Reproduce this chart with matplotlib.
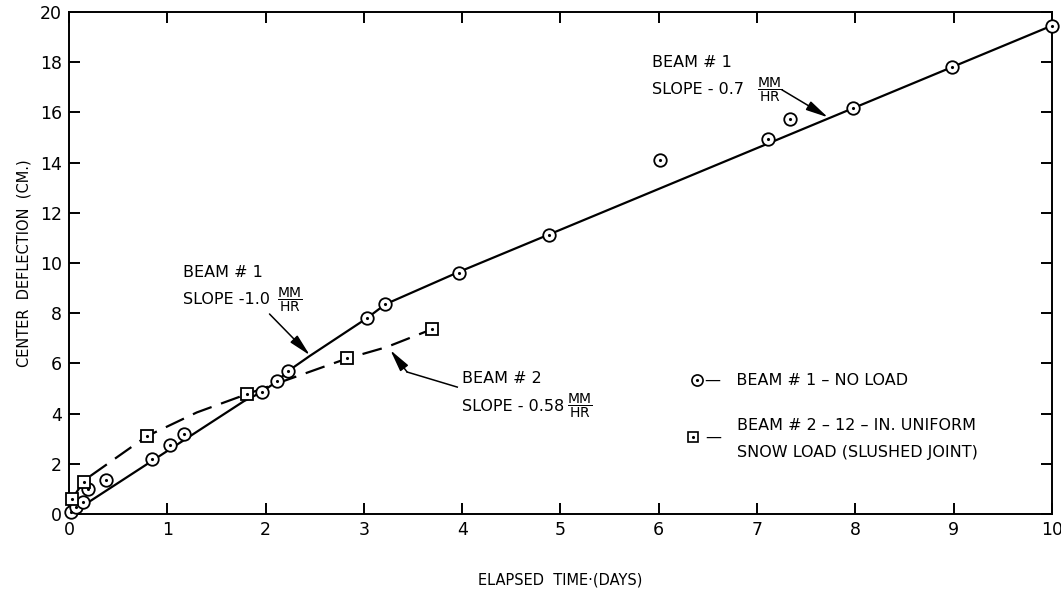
from matplotlib import pyplot as plt

# beam 1 - no load (circles)
beam1_days = [0.02, 0.07, 0.14, 0.19, 0.38, 0.84, 1.03, 1.17, 1.96, 2.12, 2.23,
              3.03, 3.22, 3.97, 4.88, 6.01, 7.11, 7.33, 7.98, 8.98, 10.0]
beam1_defl = [0.1, 0.3, 0.48, 1.0, 1.35, 2.2, 2.75, 3.2, 4.86, 5.3, 5.7,
              7.8, 8.36, 9.62, 11.1, 14.1, 14.95, 15.75, 16.15, 17.8, 19.45]

# beam 2 - 12 in. snow load (squares)
beam2_days = [0.03, 0.15, 0.79, 1.81, 2.83, 3.69]
beam2_defl = [0.6, 1.3, 3.1, 4.78, 6.2, 7.36]

# faired curves drawn through the points
fit1_days = [0.05, 1.78, 1.96, 2.12, 2.23, 2.45, 3.03, 3.22, 3.97, 10.0]
fit1_defl = [0.1, 4.5, 4.86, 5.3, 5.7, 6.3, 7.8, 8.36, 9.65, 19.45]
fit2_days = [0.03, 0.15, 0.21, 0.79, 1.3, 1.81, 2.83, 3.23, 3.69]
fit2_defl = [0.6, 1.3, 1.5, 3.1, 4.05, 4.78, 6.2, 6.65, 7.36]

xticks = list(range(0, 11))
yticks = list(range(0, 21, 2))

frac = r'$\dfrac{\mathrm{MM}}{\mathrm{HR}}$'

fig = plt.figure(figsize=(10.61, 5.89), dpi=100)
ax = fig.add_axes([0.065, 0.127, 0.9265, 0.853])

ax.plot(fit1_days, fit1_defl, c='k', lw=1.6, zorder=1)
ax.plot(fit2_days, fit2_defl, c='k', lw=1.6, ls=(0, (9, 4.5)), zorder=1)

ax.plot(beam1_days, beam1_defl, ls='none', marker='o', ms=9, mfc='white',
        mec='k', mew=1.3, zorder=3, clip_on=False)
ax.plot(beam1_days, beam1_defl, ls='none', marker='.', ms=2.5, c='k', zorder=4, clip_on=False)
ax.plot(beam2_days, beam2_defl, ls='none', marker='s', ms=8, mfc='white',
        mec='k', mew=1.3, zorder=3, clip_on=False)
ax.plot(beam2_days, beam2_defl, ls='none', marker='.', ms=2.5, c='k', zorder=4, clip_on=False)

ax.set_xlim(0, 10)
ax.set_ylim(0, 20)
ax.set_xticks(xticks)
ax.set_yticks(yticks)
ax.tick_params(direction='in', length=8, width=1.4, labelsize=12.5,
               top=True, right=True, pad=5)
for s in ax.spines.values():
    s.set_linewidth(1.4)

ax.set_xlabel('ELAPSED  TIME·(DAYS)', fontsize=10.5, labelpad=24)
ax.set_ylabel('CENTER  DEFLECTION  (CM.)', fontsize=10.5, labelpad=6)

arrow = dict(arrowstyle='-|>,head_length=0.9,head_width=0.2', color='k', lw=1.1,
             mutation_scale=15, shrinkA=0, shrinkB=0)

# slope notes
ax.text(1.16, 9.64, 'BEAM # 1', fontsize=11.5, va='center')
ax.text(1.16, 8.53, 'SLOPE -1.0', fontsize=11.5, va='center')
ax.text(2.12, 8.53, frac, fontsize=10, va='center')
ax.annotate('', xy=(2.45, 6.33), xytext=(2.04, 7.97), arrowprops=arrow)

ax.text(4.0, 5.42, 'BEAM # 2', fontsize=11.5, va='center')
ax.text(4.0, 4.3, 'SLOPE - 0.58', fontsize=11.5, va='center')
ax.text(5.07, 4.3, frac, fontsize=10, va='center')
ax.plot([3.95, 3.44], [5.06, 5.66], c='k', lw=1.1)
ax.annotate('', xy=(3.27, 6.53), xytext=(3.44, 5.66), arrowprops=arrow)

ax.text(5.93, 18.0, 'BEAM # 1', fontsize=11.5, va='center')
ax.text(5.93, 16.9, 'SLOPE - 0.7', fontsize=11.5, va='center')
ax.text(7.0, 16.9, frac, fontsize=10, va='center')
ax.annotate('', xy=(7.72, 15.8), xytext=(7.25, 16.9), arrowprops=arrow)

# key
ax.plot([6.39], [5.34], marker='o', ms=8, mfc='white', mec='k', mew=1.2)
ax.plot([6.39], [5.34], marker='.', ms=2.5, c='k')
ax.plot([6.35], [3.07], marker='s', ms=7, mfc='white', mec='k', mew=1.2)
ax.plot([6.35], [3.07], marker='.', ms=2.5, c='k')
ax.text(6.47, 5.34, '—   BEAM # 1 – NO LOAD', fontsize=11.5, va='center')
ax.text(6.47, 3.07, '—', fontsize=11.5, va='center')
ax.text(6.8, 3.55, 'BEAM # 2 – 12 – IN. UNIFORM', fontsize=11.5, va='center')
ax.text(6.8, 2.47, 'SNOW LOAD (SLUSHED JOINT)', fontsize=11.5, va='center')

fig.savefig('out.png', dpi=100)
